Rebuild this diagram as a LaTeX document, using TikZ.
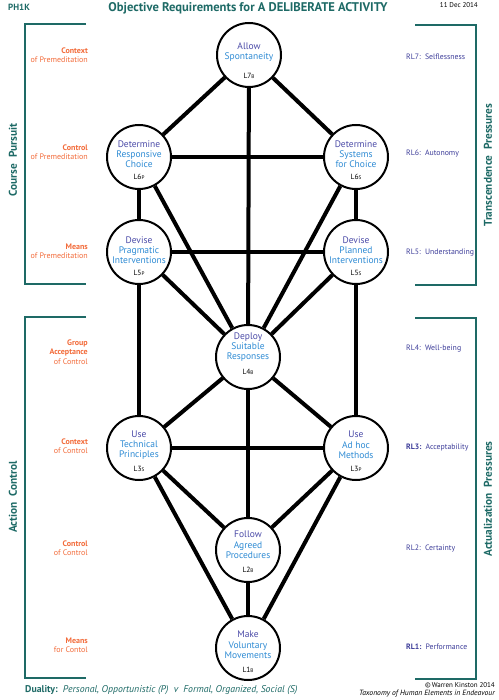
\documentclass[tikz,border=0pt]{standalone}
\usepackage{fontspec}
\setmainfont{PT Sans}
\definecolor{teal1}{HTML}{1E6A66}
\definecolor{orng}{HTML}{F26B3A}
\definecolor{indig}{HTML}{4B4BA8}
\definecolor{lblue}{HTML}{2E8BD4}
\definecolor{rlcol}{HTML}{3D3D99}
\newcommand{\lvnode}[8]{%
  \node[circ] (#1) at (#2,#3) {};
  \node[ntext] (#1t) at ([yshift=#7pt]#1.center) {\textcolor{indig}{#4}\\#5};
  \node[lvl] (#1l) at ([yshift=#8pt]#1.center) {#6};
}
\newcommand{\smallL}[1]{{\fontsize{5.2}{5}\selectfont #1}}
\begin{document}
\begin{tikzpicture}[x=1pt,y=-1pt,
  circ/.style={circle,draw,line width=2pt,fill=white,minimum size=64pt,inner sep=0pt},
  ntext/.style={align=center,inner sep=0pt,font=\fontsize{9.5}{10.3}\selectfont,text=lblue},
  lvl/.style={inner sep=0pt,font=\fontsize{7.5}{8}\selectfont},
  edge/.style={line width=4pt},
  brk/.style={line width=2.3pt,draw=teal1},
  leftlab/.style={anchor=east,align=right,inner sep=0pt,text=orng,font=\fontsize{8}{9.3}\selectfont},
  rightlab/.style={anchor=west,inner sep=0pt,text=rlcol,font=\fontsize{7.8}{9}\selectfont},
  sidelab/.style={rotate=90,inner sep=0pt,text=teal1,font=\fontsize{11.3}{12}\selectfont\bfseries},
]
\path[use as bounding box] (0,0) rectangle (498,700);

% brackets
\draw[brk] (86,24) -- (25,24) -- (25,284) -- (86,284);
\draw[brk] (86,317) -- (25,317) -- (25,678) -- (86,678);
\draw[brk] (415,25) -- (476,25) -- (476,285) -- (415,285);
\draw[brk] (415,318) -- (476,318) -- (476,679) -- (415,679);

% nodes
\lvnode{L7}{249}{55}{Allow}{Spontaneity}{L7\smallL{B}}{3}{-21}
\lvnode{L6P}{139}{157}{Determine}{Responsive\\Choice}{L6\smallL{P}}{3}{-20}
\lvnode{L6S}{356}{157}{Determine}{Systems\\for Choice}{L6\smallL{S}}{3}{-20}
\lvnode{L5P}{139}{252}{Devise}{Pragmatic\\Interventions}{L5\smallL{P}}{2}{-21}
\lvnode{L5S}{356}{252}{Devise}{Planned\\Interventions}{L5\smallL{S}}{2}{-21}
\lvnode{L4}{248}{357}{Deploy}{Suitable\\Responses}{L4\smallL{B}}{10}{-15}
\lvnode{L3S}{139}{448}{Use}{Technical\\Principles}{L3\smallL{S}}{3}{-21}
\lvnode{L3P}{356}{448}{Use}{Ad hoc\\Methods}{L3\smallL{P}}{3}{-21}
\lvnode{L2}{248}{550}{Follow}{Agreed\\Procedures}{L2\smallL{B}}{5}{-20}
\lvnode{L1}{248}{648}{Make}{Voluntary\\Movements}{L1\smallL{B}}{3}{-22}

% edges
\draw[edge] (L7) -- (L6P);
\draw[edge] (L7) -- (L6S);
\draw[edge] (L7) -- (L4);
\draw[edge] (L6P) -- (L6S);
\draw[edge] (L6P) -- (L5P);
\draw[edge] (L6P) -- (L4);
\draw[edge] (L6S) -- (L5S);
\draw[edge] (L6S) -- (L4);
\draw[edge] (L5P) -- (L5S);
\draw[edge] (L5P) -- (L4);
\draw[edge] (L5S) -- (L4);
\draw[edge] (L5P) -- (L3S);
\draw[edge] (L5S) -- (L3P);
\draw[edge] (L4) -- (L3S);
\draw[edge] (L4) -- (L3P);
\draw[edge] (L4) -- (L2);
\draw[edge] (L3S) -- (L3P);
\draw[edge] (L3S) -- (L2);
\draw[edge] (L3S) -- (L1);
\draw[edge] (L3P) -- (L2);
\draw[edge] (L3P) -- (L1);
\draw[edge] (L2) -- (L1);

% left labels
\node[leftlab] (lc7) at (88,55) {\textbf{Context}\\of Premeditation};
\node[leftlab] (lc6) at (88,152) {\textbf{Control}\\of Premeditation};
\node[leftlab] (lc5) at (88,251.5) {\textbf{Means}\\of Premeditation};
\node[leftlab] (lc4) at (88,352) {\textbf{Group}\\\textbf{Acceptance}\\of Control};
\node[leftlab] (lc3) at (88,446.5) {\textbf{Context}\\of Control};
\node[leftlab] (lc2) at (88,548) {\textbf{Control}\\of Control};
\node[leftlab] (lc1) at (88,645.5) {\textbf{Means}\\for Contol};

% right labels
\node[rightlab] (rl7) at (406,57) {RL7:\ \ Selflessness};
\node[rightlab] (rl6) at (406,154) {RL6:\ \ Autonomy};
\node[rightlab] (rl5) at (406,253) {RL5:\ \ Understanding};
\node[rightlab] (rl4) at (406,349) {RL4:\ \ Well-being};
\node[rightlab] (rl3) at (406,448) {\textbf{RL3:}\ \ Acceptability};
\node[rightlab] (rl2) at (406,549) {RL2:\ \ Certainty};
\node[rightlab] (rl1) at (406,647) {\textbf{RL1:}\ \ Performance};

% side labels
\node[sidelab] (cp) at (13,160) {Course\ \ Pursuit};
\node[sidelab] (ac) at (13,497) {Action\ \ Control};
\node[sidelab] (tp) at (488,165) {Transcendence\ \ Pressures};
\node[sidelab] (ap) at (488,499) {Actualization\ \ Pressures};

% header
\node[anchor=west,inner sep=0pt,text=teal1,font=\fontsize{9}{10}\selectfont\bfseries] (ph) at (8,7) {PH1K};
\node[inner sep=0pt,text=teal1,font=\fontsize{12.6}{13}\selectfont\bfseries] (title) at (248,8) {Objective Requirements for A DELIBERATE ACTIVITY};
\node[anchor=east,inner sep=0pt,font=\fontsize{7}{8}\selectfont] (date) at (478,5) {11 Dec 2014};

% footer
\node[anchor=west,inner sep=0pt,text=teal1,font=\fontsize{9.8}{11}\selectfont] (dual) at (25,690) {\textbf{Duality:}\ \ \textit{Personal, Opportunistic (P)\ \ v\ \ Formal, Organized, Social (S)}};
\node[anchor=east,inner sep=0pt,font=\fontsize{7}{8}\selectfont] (copy) at (495,685) {©\,Warren Kinston 2014};
\node[anchor=east,inner sep=0pt,font=\fontsize{7.6}{8}\selectfont\itshape] (tax) at (495,693.5) {Taxonomy of Human Elements in Endeavour};
\end{tikzpicture}
\end{document}
